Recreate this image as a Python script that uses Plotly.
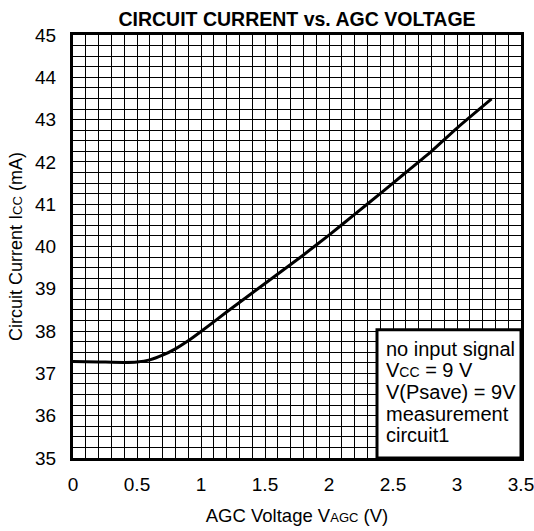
import plotly.graph_objects as go

agc_voltage = [0.0, 0.2, 0.4, 0.5, 0.6, 0.7, 0.8, 0.9, 1.0, 1.2, 1.4, 1.6, 1.8, 2.0, 2.2, 2.4, 2.6, 2.8, 3.0, 3.27]
circuit_current = [37.28, 37.27, 37.26, 37.27, 37.32, 37.43, 37.58, 37.77, 37.99, 38.45, 38.90, 39.35, 39.80, 40.27, 40.76, 41.25, 41.75, 42.25, 42.80, 43.49]

x_ticks = [0, 0.5, 1, 1.5, 2, 2.5, 3, 3.5]
y_ticks = [35, 36, 37, 38, 39, 40, 41, 42, 43, 44, 45]

note_lines = ["no input signal",
              "V<span style='font-size:14px'>CC</span> = 9 V",
              "V(Psave) = 9V",
              "measurement",
              "circuit1"]
note_y = [37.58, 37.07, 36.56, 36.05, 35.54]

FONT = "Liberation Sans, Arial, sans-serif"

W, H = 534, 531

fig = go.Figure()
fig.add_trace(go.Scatter(x=agc_voltage, y=circuit_current, mode="lines",
                         line=dict(color="black", width=3, shape="spline", smoothing=0.6),
                         hoverinfo="skip", showlegend=False))

axis_common = dict(showgrid=True, gridcolor="black", gridwidth=1,
                   showline=True, linecolor="black", linewidth=3, mirror=True,
                   ticks="", zeroline=False, automargin=False,
                   tickfont=dict(family=FONT, size=19, color="black"))

fig.update_xaxes(range=[0, 3.5], tickvals=x_ticks,
                 minor=dict(dtick=0.1, showgrid=True, gridcolor="black", gridwidth=1),
                 title=dict(text="AGC Voltage V<span style='font-size:13px'>AGC</span> (V)",
                            font=dict(family=FONT, size=18.5, color="black"), standoff=16),
                 ticklabelstandoff=7, ticklabeloverflow="allow", **axis_common)
fig.update_yaxes(range=[35, 45], tickvals=y_ticks,
                 minor=dict(dtick=0.25, showgrid=True, gridcolor="black", gridwidth=1),
                 title=dict(text="Circuit Current I<span style='font-size:13px'>CC</span> (mA)",
                            font=dict(family=FONT, size=18, color="black"), standoff=8),
                 ticklabelstandoff=10, **axis_common)

fig.add_shape(type="rect", xref="x", yref="y", x0=2.375, x1=3.5, y0=35, y1=38.03,
              fillcolor="white", line=dict(color="black", width=3), layer="above")
for txt, yy in zip(note_lines, note_y):
    fig.add_annotation(x=2.43, y=yy, xref="x", yref="y", xanchor="left", yanchor="middle",
                       align="left", showarrow=False, text=txt,
                       font=dict(family=FONT, size=20, color="black"))

fig.update_layout(
    width=W, height=H,
    margin=dict(l=73, r=13, t=35, b=73),
    paper_bgcolor="white", plot_bgcolor="white",
    title=dict(text="<b>CIRCUIT CURRENT vs. AGC VOLTAGE</b>", x=297 / W, xanchor="center",
               y=1 - 19 / H, yanchor="middle",
               font=dict(family=FONT, size=19.5, color="black")),
)

fig.write_html("out.html", config={"displayModeBar": False, "staticPlot": True},
               post_script="document.body.style.margin='0px';document.body.style.overflow='hidden';")
